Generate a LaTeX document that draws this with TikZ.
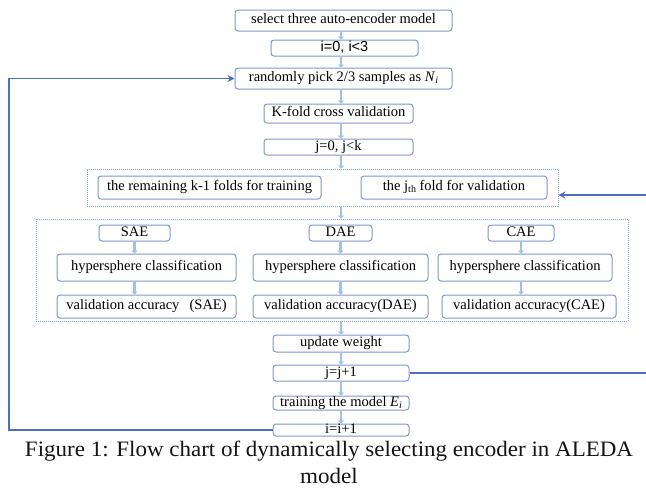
\documentclass[tikz,border=0pt]{standalone}
\usepackage{fontspec}
\usepackage{graphicx}
\setmainfont{Liberation Serif}
\newfontfamily\sansf{Liberation Sans}
\usetikzlibrary{arrows.meta}
\definecolor{boxline}{RGB}{128,150,205}
\definecolor{flow}{RGB}{157,195,230}
\definecolor{loopc}{RGB}{80,110,190}
\definecolor{grp}{RGB}{125,165,225}
\newcommand\lowsub[1]{\raisebox{-0.35ex}{\fontsize{10}{10}\selectfont #1}}
\begin{document}
\begin{tikzpicture}[x=1pt,y=-1pt,
  box/.style={draw=boxline, line width=1pt, rounded corners=3pt, fill=white,
    inner sep=0pt, text height=8pt, text depth=2pt,
    font=\fontsize{14.5}{16}\selectfont},
  grpbox/.style={draw=grp, dash pattern=on 1pt off 1pt, line width=0.8pt, inner sep=0pt},
  flowarrow/.style={draw=flow, line width=2.5pt, -{Triangle[length=3pt,width=6pt]}},
  loopline/.style={draw=loopc, line width=1.6pt},
  looptip/.style={-{Stealth[length=7pt,width=7pt]}},
  captext/.style={inner sep=0pt, text=black!92, font=\fontsize{22}{26}\selectfont},
]
\useasboundingbox (0,0) rectangle (646,491);

% dotted grouping frames
\node[grpbox, minimum width=471, minimum height=37] (g1) at (322.5,187.5) {};
\node[grpbox, minimum width=592, minimum height=102] (g2) at (332,270) {};

% main column
\node[box, minimum width=217, minimum height=21] (sel) at (343.5,20.5) {select three auto-encoder model};
\node[box, minimum width=147, minimum height=16] (i0) at (344.5,48) {\sansf i=0, i<3};
\node[box, minimum width=217, minimum height=21] (rand) at (343.5,78.5) {randomly pick 2/3 samples as \textit{N}\lowsub{\itshape i}};
\node[box, minimum width=149, minimum height=19] (kf) at (338.5,113.5) {K-fold cross validation};
\node[box, minimum width=149, minimum height=16] (j0) at (338.5,147) {j=0, j<k};

% fold split
\node[box, minimum width=223, minimum height=23] (rem) at (209.5,187.5) {the remaining k-1 folds for training};
\node[box, minimum width=186, minimum height=23] (jth) at (454,187.5) {the j\lowsub{th} fold for validation};

% three encoders
\node[box, minimum width=71, minimum height=16] (sae) at (134.5,233) {SAE};
\node[box, minimum width=63, minimum height=16] (dae) at (340.5,233) {DAE};
\node[box, minimum width=66, minimum height=16] (cae) at (521,233) {CAE};
\node[box, minimum width=179, minimum height=27] (hs) at (146.5,267.5) {hypersphere classification};
\node[box, minimum width=175, minimum height=27] (hd) at (340.5,267.5) {hypersphere classification};
\node[box, minimum width=174, minimum height=27] (hc) at (525,267.5) {hypersphere classification};
\node[box, minimum width=179, minimum height=23] (vs) at (146.5,306.5) {validation accuracy\hspace{0.7em}(SAE)};
\node[box, minimum width=175, minimum height=23] (vd) at (340.5,306.5) {validation accuracy(DAE)};
\node[box, minimum width=174, minimum height=23] (vc) at (529,306.5) {validation accuracy(CAE)};

% lower column
\node[box, minimum width=136, minimum height=17] (upd) at (341,343.5) {update weight};
\node[box, minimum width=136, minimum height=16] (jj) at (341,373) {j=j+1};
\node[box, minimum width=136, minimum height=14] (tr) at (341,403) {training the model \textit{E}\lowsub{\itshape i}};
\node[box, minimum width=136, minimum height=12] (ii) at (341,430) {i=i+1};

% flow arrows along the main column
\draw[flowarrow] (sel.south -| upd) -- (i0.north -| upd);
\draw[flowarrow] (i0.south -| upd) -- (rand.north -| upd);
\draw[flowarrow] (rand.south -| upd) -- (kf.north -| upd);
\draw[flowarrow] (kf.south -| upd) -- (j0.north -| upd);
\draw[flowarrow] (j0.south -| upd) -- (g1.north -| upd);
\draw[flowarrow] (g1.south -| upd) -- (g2.north -| upd);
\draw[flowarrow] (g2.south -| upd) -- (upd.north);
\draw[flowarrow] (upd.south) -- (jj.north);
\draw[flowarrow] (jj.south) -- (tr.north);
\draw[flowarrow] (tr.south) -- (ii.north);

% per-encoder arrows
\draw[flowarrow] (sae.south) -- (sae.south |- hs.north);
\draw[flowarrow] (sae.south |- hs.south) -- (sae.south |- vs.north);
\draw[flowarrow] (dae.south) -- (dae.south |- hd.north);
\draw[flowarrow] (dae.south |- hd.south) -- (dae.south |- vd.north);
\draw[flowarrow] (cae.south) -- (cae.south |- hc.north);
\draw[flowarrow] (cae.south |- hc.south) -- (cae.south |- vc.north);

% loops
\coordinate (lc) at (9,0);
\draw[loopline, looptip] (ii.west) -- (ii.west -| lc) |- (rand.west);
\coordinate (rout) at (646,373);
\coordinate (rin) at (646,195);
\draw[loopline] (jj.east) -- (rout);
\draw[loopline, looptip] (rin) -- (rin -| g1.east);

% caption, two centred lines
\node[captext, anchor=base] (cap1) at (329,456)
  {\resizebox{608pt}{\height}{Figure 1: Flow chart of dynamically selecting encoder in ALEDA}};
\node[captext, anchor=base] (cap2) at (329,483) {\scalebox{1.05}[1]{model}};
\end{tikzpicture}
\end{document}
